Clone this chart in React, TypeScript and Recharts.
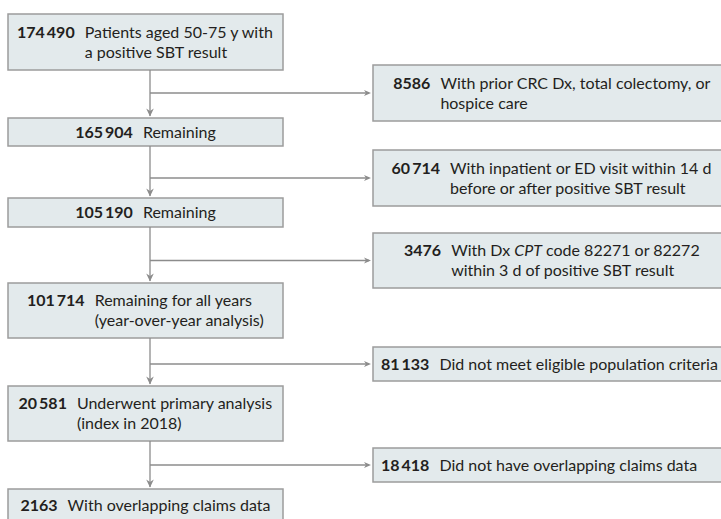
import React from 'react';
import { ComposedChart, XAxis, YAxis, ReferenceArea, ReferenceLine, ReferenceDot } from 'recharts';

// ---------- data ----------
const includedCounts = [174490, 165904, 105190, 101714, 20581, 2163];
const includedLabels: string[][] = [
  ['Patients aged 50-75 y with', 'a positive SBT result'],
  ['Remaining'],
  ['Remaining'],
  ['Remaining for all years', '(year-over-year analysis)'],
  ['Underwent primary analysis', '(index in 2018)'],
  ['With overlapping claims data'],
];
const excludedCounts = [8586, 60714, 3476, 81133, 18418];
const excludedLabels: string[][] = [
  ['With prior CRC Dx, total colectomy, or', 'hospice care'],
  ['With inpatient or ED visit within 14 d', 'before or after positive SBT result'],
  ['With Dx *CPT* code 82271 or 82272', 'within 3 d of positive SBT result'],
  ['Did not meet eligible population criteria'],
  ['Did not have overlapping claims data'],
];

// ---------- layout (chart units) ----------
const W = 721;
const H = 519;
const mainX = [8, 283];
const mainY = [[14, 70], [118, 146], [198, 227], [283, 338], [386, 441], [489, 521]];
const exclX = [373, 731];
const exclY = [[65, 121], [150, 206], [233, 288], [347, 381], [448, 482]];
const exclAlign = ['center', 'center', 'center', 'left', 'left'];
const spineX = 150;

// ---------- style ----------
const FONT = 'Lato';
const FS = 16;
const LH = 20;
const GAP = 10;
const TEXT = '#231f20';
const BOX_FILL = '#e3eaec';
const BOX_STROKE = '#9c9c9c';
const LINE = '#8c8c8c';

let ctx: CanvasRenderingContext2D | null = null;
function measure(text: string, weight = 'normal', style = 'normal') {
  if (!ctx) ctx = document.createElement('canvas').getContext('2d');
  if (!ctx) return text.length * FS * 0.5;
  ctx.font = `${style} normal ${weight} ${FS}px ${FONT}`;
  return ctx.measureText(text).width;
}

function fmt(n: number) {
  const s = String(n);
  if (n >= 10000) return s.slice(0, s.length - 3) + '\u2009' + s.slice(s.length - 3);
  return s;
}

function segs(line: string) {
  return line.split('*').map((t, i) => ({ t, italic: i % 2 === 1 }));
}
function lineWidth(line: string) {
  return segs(line).reduce((a, s) => a + measure(s.t, 'normal', s.italic ? 'italic' : 'normal'), 0);
}

function BoxShape(props: any) {
  const { x, y, width, height, count, lines, align } = props;
  const num = fmt(count);
  const numW = measure(num, 'bold');
  const maxW = Math.max(...lines.map(lineWidth));
  const block = numW + GAP + maxW;
  const startX = align === 'left' ? x + 8 : x + width / 2 - block / 2;
  const cy = y + height / 2;
  const firstY = cy - ((lines.length - 1) * LH) / 2;
  return (
    <g>
      <rect x={x} y={y} width={width} height={height} fill={BOX_FILL} stroke={BOX_STROKE} strokeWidth={1.5} />
      {lines.map((ln: string, i: number) => (
        <text
          key={i}
          y={firstY + i * LH + FS * 0.36}
          fontFamily={FONT}
          fontSize={FS}
          fill={TEXT}
          style={{ whiteSpace: 'pre' }}
        >
          {i === 0 && (
            <tspan x={startX} fontWeight="bold">{num}</tspan>
          )}
          {segs(ln).map((s, j) => (
            <tspan key={j} x={j === 0 ? startX + numW + GAP : undefined} fontStyle={s.italic ? 'italic' : 'normal'}>
              {s.t}
            </tspan>
          ))}
        </text>
      ))}
    </g>
  );
}

const DownArrow = (p: any) => (
  <path d={`M${p.cx - 3.8},${p.cy - 8} L${p.cx},${p.cy} L${p.cx + 3.8},${p.cy - 8} L${p.cx},${p.cy - 5.5} Z`} fill={LINE} />
);
const RightArrow = (p: any) => (
  <path d={`M${p.cx - 7},${p.cy - 3} L${p.cx},${p.cy} L${p.cx - 7},${p.cy + 3} L${p.cx - 5},${p.cy} Z`} fill={LINE} />
);

export default function App() {
  return (
    <div style={{ position: 'absolute', left: 0, top: 0, width: W, height: H, background: '#fff' }}>
      <ComposedChart width={W} height={H} margin={{ top: 0, right: 0, bottom: 0, left: 0 }} data={[]}>
        <XAxis type="number" dataKey="x" domain={[0, W]} hide allowDataOverflow />
        <YAxis type="number" dataKey="y" domain={[0, H]} reversed hide allowDataOverflow />
        {/* spine segments */}
        {mainY.slice(1).map((yy, i) => (
          <ReferenceLine
            key={`s${i}`}
            segment={[{ x: spineX, y: mainY[i][1] }, { x: spineX, y: yy[0] - 2 }]}
            stroke={LINE}
            strokeWidth={1.3}
            ifOverflow="visible"
          />
        ))}
        {/* branches */}
        {exclY.map((yy, i) => (
          <ReferenceLine
            key={`b${i}`}
            segment={[{ x: spineX, y: (yy[0] + yy[1]) / 2 }, { x: exclX[0] - 4, y: (yy[0] + yy[1]) / 2 }]}
            stroke={LINE}
            strokeWidth={1.3}
            ifOverflow="visible"
          />
        ))}
        {mainY.slice(1).map((yy, i) => (
          <ReferenceDot key={`da${i}`} x={spineX} y={yy[0] - 1.5} ifOverflow="visible" shape={DownArrow} />
        ))}
        {exclY.map((yy, i) => (
          <ReferenceDot key={`ra${i}`} x={exclX[0] - 2} y={(yy[0] + yy[1]) / 2} ifOverflow="visible" shape={RightArrow} />
        ))}
        {includedCounts.map((c, i) => (
          <ReferenceArea
            key={`m${i}`}
            x1={mainX[0]}
            x2={mainX[1]}
            y1={mainY[i][0]}
            y2={mainY[i][1]}
            ifOverflow="visible"
            shape={(p: any) => <BoxShape {...p} count={c} lines={includedLabels[i]} align="center" />}
          />
        ))}
        {excludedCounts.map((c, i) => (
          <ReferenceArea
            key={`e${i}`}
            x1={exclX[0]}
            x2={exclX[1]}
            y1={exclY[i][0]}
            y2={exclY[i][1]}
            ifOverflow="visible"
            shape={(p: any) => <BoxShape {...p} count={c} lines={excludedLabels[i]} align={exclAlign[i]} />}
          />
        ))}
      </ComposedChart>
    </div>
  );
}
